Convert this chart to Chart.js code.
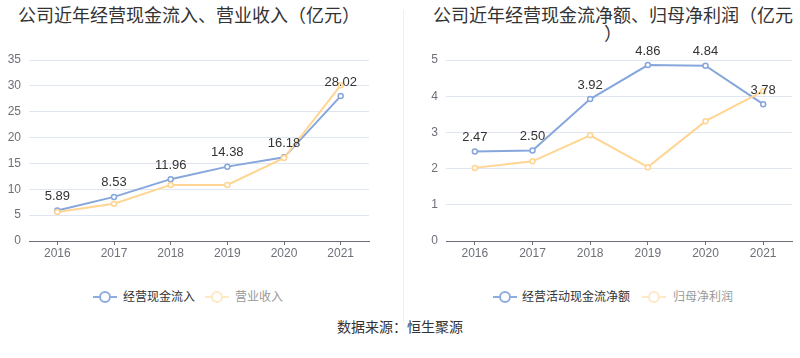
<!DOCTYPE html>
<html><head><meta charset="utf-8">
<script src="https://cdn.jsdelivr.net/npm/chart.js@4/dist/chart.umd.min.js"></script>
<style>
html,body{margin:0;padding:0;background:#fff;}
body{width:800px;height:358px;position:relative;overflow:hidden;font-family:"Liberation Sans","Noto Sans CJK SC",sans-serif;}
.title{position:absolute;font-family:"Noto Sans CJK SC",sans-serif;font-size:18px;line-height:18px;color:#333;white-space:nowrap;}
.cv{position:absolute;}
.legend{position:absolute;top:289px;height:16px;font-family:"Noto Sans CJK SC",sans-serif;font-size:12px;line-height:16px;white-space:nowrap;}
.item{position:absolute;top:0;}
.icon{position:absolute;top:0;width:24px;height:16px;}
.icon .ln{position:absolute;left:0;top:7px;width:24px;height:2px;}
.icon .ci{position:absolute;left:6px;top:2px;width:8px;height:8px;border-radius:50%;background:#fff;border-width:2px;border-style:solid;}
.lt{position:absolute;top:-1px;}
#sep{position:absolute;left:403px;top:10px;width:1px;height:312px;background:#eeeeee;}
#src{position:absolute;left:0;width:800px;top:316px;text-align:center;font-family:"Noto Sans CJK SC",sans-serif;font-size:14px;line-height:20px;color:#333;}
</style></head>
<body>
<div class="title" style="left:18px;top:5px;">公司近年经营现金流入、营业收入（亿元）</div>
<div class="title" style="left:413px;top:5px;width:400px;text-align:center;">公司近年经营现金流净额、归母净利润（亿元<br>）</div>
<div id="sep"></div>
<div class="cv" style="left:0;top:40px;width:400px;height:230px;"><canvas id="c1" width="400" height="230"></canvas></div>
<div class="cv" style="left:400px;top:40px;width:400px;height:230px;"><canvas id="c2" width="400" height="230"></canvas></div>

<div class="legend" style="left:0;width:400px;">
  <div class="item" style="left:93px;"><div class="icon"><div class="ln" style="background:#8eacdf"></div><div class="ci" style="border-color:#8eacdf"></div></div><span class="lt" style="left:30px;color:#333;">经营现金流入</span></div>
  <div class="item" style="left:205px;"><div class="icon"><div class="ln" style="background:#fde9c6"></div><div class="ci" style="border-color:#fde9c6"></div></div><span class="lt" style="left:30px;color:#999;">营业收入</span></div>
</div>
<div class="legend" style="left:0;width:800px;">
  <div class="item" style="left:493px;"><div class="icon"><div class="ln" style="background:#8eacdf"></div><div class="ci" style="border-color:#8eacdf"></div></div><span class="lt" style="left:29px;color:#333;">经营活动现金流净额</span></div>
  <div class="item" style="left:642px;"><div class="icon"><div class="ln" style="background:#fde9c6"></div><div class="ci" style="border-color:#fde9c6"></div></div><span class="lt" style="left:31px;color:#999;">归母净利润</span></div>
</div>
<div id="src">数据来源：恒生聚源</div>

<script>
const years = ['2016','2017','2018','2019','2020','2021'];
const cashInflow = [5.89, 8.53, 11.96, 14.38, 16.18, 28.02];
const revenue = [5.6, 7.2, 10.85, 10.85, 16.05, 30.1];
const netCashFlow = [2.47, 2.50, 3.92, 4.86, 4.84, 3.78];
const netProfit = [2.02, 2.20, 2.92, 2.04, 3.31, 4.14];
const leftTicks = [0,5,10,15,20,25,30,35];
const rightTicks = [0,1,2,3,4,5];

const BLUE = '#86a6dc', ORANGE = '#ffd591';

const labelPlugin = {
  id: 'ptLabels',
  afterDatasetsDraw(chart) {
    const ctx = chart.ctx;
    chart.data.datasets.forEach((ds, i) => {
      if (!ds.showLabels) return;
      const meta = chart.getDatasetMeta(i);
      ctx.save();
      ctx.font = '13px "Liberation Sans", sans-serif';
      ctx.fillStyle = '#333';
      ctx.textAlign = 'center';
      ctx.textBaseline = 'middle';
      meta.data.forEach((pt, j) => {
        ctx.fillText(ds.data[j].toFixed(2), pt.x, pt.y - 14);
      });
      ctx.restore();
    });
  }
};

function makeChart(id, s1, s2, ticks, yw) {
  const max = ticks[ticks.length - 1];
  const step = ticks[1] - ticks[0];
  return new Chart(document.getElementById(id), {
    type: 'line',
    data: {
      labels: years,
      datasets: [
        {data: s1, borderColor: BLUE, backgroundColor: '#fff', borderWidth: 2, pointRadius: 2.5, pointBorderWidth: 1.5, pointBackgroundColor: '#fff', pointBorderColor: BLUE, showLabels: true, order: 2, tension: 0},
        {data: s2, borderColor: ORANGE, backgroundColor: '#fff', borderWidth: 2, pointRadius: 2.5, pointBorderWidth: 1.5, pointBackgroundColor: '#fff', pointBorderColor: ORANGE, order: 1, tension: 0}
      ]
    },
    options: {
      responsive: false,
      animation: false,
      events: [],
      layout: {padding: {top: 20, right: yw.right, left: 0, bottom: 0}},
      plugins: {legend: {display: false}, tooltip: {enabled: false}, title: {display: false}},
      scales: {
        x: {
          offset: true,
          grid: {display: true, drawOnChartArea: false, offset: false, tickLength: 4, color: '#6E7079', tickWidth: 1},
          border: {display: true, color: '#6E7079', width: 1},
          ticks: {color: '#6E7079', font: {size: 12, family: '"Liberation Sans", sans-serif'}, padding: 1, maxRotation: 0},
          afterFit(s) { s.height = 29; }
        },
        y: {
          min: 0, max: max,
          grid: {color: '#E0E6F1', drawTicks: false, lineWidth: 1},
          border: {display: false},
          ticks: {stepSize: step, color: '#6E7079', font: {size: 12, family: '"Liberation Sans", sans-serif'}, padding: 8},
          afterFit(s) { s.width = yw.left; }
        }
      }
    },
    plugins: [labelPlugin]
  });
}

makeChart('c1', cashInflow, revenue, leftTicks, {left: 29, right: 31});
makeChart('c2', netCashFlow, netProfit, rightTicks, {left: 46, right: 8});
</script>
</body></html>
